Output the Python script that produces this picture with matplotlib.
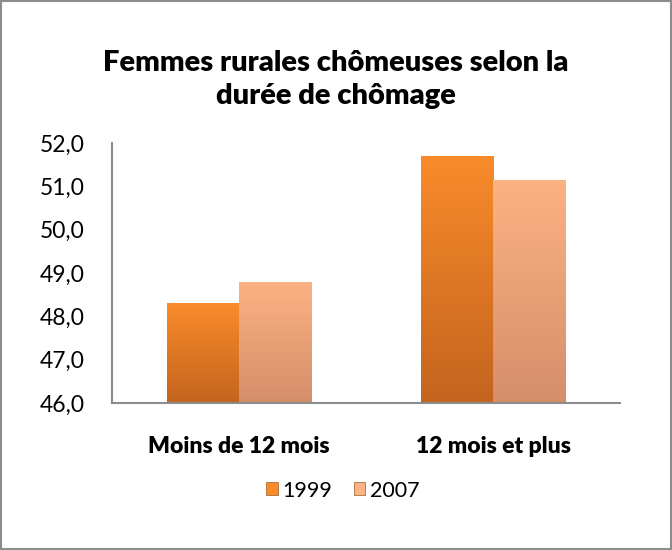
import numpy as np
import matplotlib.pyplot as plt
from matplotlib.patches import Rectangle, Patch

categories = ["Moins de 12 mois", "12 mois et plus"]
years = ["1999", "2007"]
v1999 = [48.3, 51.7]
v2007 = [48.8, 51.15]
yticks = [46, 47, 48, 49, 50, 51, 52]

plt.rcParams['font.family'] = ['Lato', 'DejaVu Sans']

fig = plt.figure(figsize=(6.72, 5.5), dpi=100)
ax = fig.add_axes([0.1667, 0.267, 0.756, 0.473])

x = np.arange(len(categories))
w = 0.285
colors = {"1999": ("#F98B2B", "#C4641E"), "2007": ("#FDB283", "#D48E6A")}

def grad_bars(xs, vals, top, bottom):
    bars = ax.bar(xs, np.array(vals) - 46, w, bottom=46, color=top,
                  edgecolor="#9A5A2A", linewidth=0.6)
    cmap = plt.matplotlib.colors.LinearSegmentedColormap.from_list("g", [bottom, top])
    grad = np.linspace(0, 1, 256).reshape(-1, 1)
    for b in bars:
        bx, by = b.get_x(), b.get_y()
        im = ax.imshow(grad, extent=[bx, bx + b.get_width(), by, by + b.get_height()],
                       origin="lower", cmap=cmap, aspect="auto", zorder=2)
        im.set_clip_path(b)
    return bars

grad_bars(x - w / 2, v1999, *colors["1999"])
grad_bars(x + w / 2, v2007, *colors["2007"])

ax.set_xlim(-0.5, 1.5)
ax.set_ylim(46, 52)
ax.set_yticks(yticks)
ax.set_yticklabels([f"{t:.1f}".replace(".", ",") for t in yticks], fontsize=16.5)
ax.set_xticks(x)
ax.set_xticklabels(categories, fontsize=16.5, fontweight="heavy")
ax.tick_params(axis="y", length=0, pad=20)
ax.tick_params(axis="x", length=0, pad=24)
for s in ["top", "right"]:
    ax.spines[s].set_visible(False)
for s in ["left", "bottom"]:
    ax.spines[s].set_color("#8C8C8C")
    ax.spines[s].set_linewidth(1.5)

fig.text(0.5, 0.856, "Femmes rurales chômeuses selon la\ndurée de chômage",
         ha="center", va="center", fontsize=21, fontweight="heavy", linespacing=1.32)

handles = [Patch(facecolor=colors[y][0], edgecolor="#9A5A2A", linewidth=0.5) for y in years]
fig.legend(handles, years, loc="center", bbox_to_anchor=(0.51, 0.108), ncol=2,
           frameon=False, fontsize=15.5, handlelength=0.55, handleheight=0.55,
           handletextpad=0.2, columnspacing=1.0)

fig.patches.append(Rectangle((0.002, 0.002), 0.996, 0.996, transform=fig.transFigure,
                             fill=False, edgecolor="#8C8C8C", linewidth=1.5))

fig.savefig("out.png", dpi=100)
